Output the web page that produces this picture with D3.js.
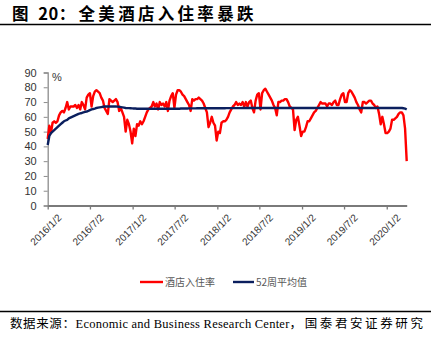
<!DOCTYPE html>
<html><head><meta charset="utf-8">
<script src="https://cdn.jsdelivr.net/npm/d3@7"></script>
<style>
html,body{margin:0;padding:0;background:#fff;}
svg{display:block;}
</style></head>
<body>
<svg id="chart" width="432" height="340"></svg>
<script>
// ---------- DATA ----------
const startDate = "2016-01-02";   // first weekly observation
const weekCount = 222;
const xTickLabels = ["2016/1/2","2016/7/2","2017/1/2","2017/7/2","2018/1/2","2018/7/2","2019/1/2","2019/7/2","2020/1/2"];
const yTicks = [0,10,20,30,40,50,60,70,80,90];
const seriesNames = ["酒店入住率","52周平均值"];

// weekly hotel occupancy (%)
const occupancy = [
45,54,49,56,57,56,57,61,63,64,
63,66,70,65,67,67,67,68,66,68,
65,70,68,65,73,75,76,67,74,77,
78,77,76,73,71,66,64,62,72,71,
70,71,72,70,64,66,63,60,50,58,
55,50,42,52,47,55,54,57,55,57,
60,63,65,66,67,70,67,69,65,70,
68,69,67,70,64,71,74,76,66,75,
78,78,77,75,74,72,70,68,64,72,
71,72,72,73,72,71,69,66,63,53,
56,60,56,54,44,50,49,56,57,57,
58,60,63,65,67,68,70,68,69,68,
70,67,70,67,70,71,66,63,71,75,
76,65,76,78,79,77,75,73,71,68,
66,61,70,70,71,71,72,72,70,67,
66,65,51,58,60,54,47,50,50,53,
57,57,59,61,63,64,66,68,70,69,
69,69,67,69,69,68,70,71,68,68,
72,75,76,70,70,76,78,77,75,73,
70,68,65,63,70,70,69,70,71,71,
69,68,66,67,62,55,60,55,49,49,
50,52,58,58,59,60,62,63,63,61,
52,30
];

// 52-week average (%)
const avg52 = [
41,47,49,50,51,52,53,54,55,56,
57,57.5,58,59,59.5,60,60.5,61,61.5,62,
62.3,62.6,63,63.3,63.6,64,64.5,65,65.3,65.6,
66,66.2,66.4,66.6,66.8,67,67,67,67,67,
67,67,67,66.9,66.8,66.6,66.4,66.2,66,65.9,
65.9,65.8,65.7,65.6,65.6,65.5,65.5,65.5,65.5,65.5,
65.5,65.5,65.5,65.5,65.5,65.5,65.5,65.5,65.5,65.5,
65.5,65.5,65.5,65.5,65.5,65.5,65.5,65.5,65.5,65.5,
65.5,65.5,65.6,65.6,65.6,65.6,65.6,65.7,65.7,65.7,
65.7,65.7,65.8,65.8,65.8,65.8,65.8,65.8,65.8,65.8,
65.8,65.8,65.8,65.8,65.8,65.8,65.8,65.8,65.8,65.8,
65.9,65.9,65.9,65.9,65.9,65.9,65.9,65.9,65.9,65.9,
66,66,66,66,66,66,66,66,66,66,
66,66,66,66,66,66,66,66,66,66,
66,66,66,66,66,66,66,66,66,66,
66,66,66,66,66,66,66,66,66,66,
66,66,66,66,66,66,66,66,66,66,
66,66,66,66,66,66,66,66,66,66,
66,66,66,66,66,66,66,66,66,66,
66,66,66,66,66,66,66,66,66,66,
66,66,66,66,66,66,66,66,66,66,
66,66,66,66,66,66,66,66,66,65.8,
65.6,65.0
];

// ---------- CHART ----------
const svg = d3.select("#chart");
const parse = d3.timeParse("%Y-%m-%d");
const t0 = parse(startDate);
const dates = d3.range(weekCount).map(i => d3.timeDay.offset(t0, i * 7));
const tickParse = d3.timeParse("%Y/%-m/%-d");
const tickDates = xTickLabels.map(s => tickParse(s));

const x = d3.scaleTime().domain([dates[0], dates[dates.length - 1]]).range([47.7, 406.7]);
const y = d3.scaleLinear().domain([0, 90]).range([205.5, 72.5]);

// Title
const title = svg.append("text")
  .attr("x", 12).attr("y", 19.5)
  .attr("font-family", "'Noto Sans CJK SC', sans-serif")
  .attr("font-weight", "bold").attr("font-size", 16.5)
  .attr("fill", "#000");
title.append("tspan").attr("letter-spacing", 3).text("图 ");
title.append("tspan").attr("letter-spacing", 0.5).text("20");
title.append("tspan").attr("letter-spacing", 3.3).text("：全美酒店入住率暴跌");
svg.append("line").attr("x1", 0).attr("x2", 431).attr("y1", 24.5).attr("y2", 24.5)
  .attr("stroke", "#000").attr("stroke-width", 1.4);

// Y axis
const yAxis = d3.axisLeft(y).tickValues(yTicks).tickSize(4).tickPadding(7);
const gy = svg.append("g").attr("transform", "translate(47.7,0)").call(yAxis);
gy.select(".domain").attr("stroke", "#8c8c8c").attr("stroke-width", 1.3);
gy.selectAll(".tick line").attr("stroke", "#8c8c8c");
gy.selectAll("text").attr("font-family", "'Liberation Sans', Arial, sans-serif")
  .attr("font-size", 11).attr("fill", "#333");

svg.append("text").attr("x", 52).attr("y", 81)
  .attr("font-family", "'Liberation Sans', Arial, sans-serif").attr("font-size", 11).attr("fill", "#333")
  .text("%");

// X axis
const fmt = d3.timeFormat("%Y/%-m/%-d");
const xAxis = d3.axisBottom(x).tickValues(tickDates).tickFormat(fmt).tickSize(4).tickSizeOuter(0);
const gx = svg.append("g").attr("transform", "translate(0,205.5)").call(xAxis);
gx.select(".domain").attr("stroke", "#7a7a7a").attr("stroke-width", 2);
gx.selectAll(".tick line").attr("stroke", "#7a7a7a").attr("stroke-width", 1.3);
gx.selectAll("text")
  .attr("font-family", "'Liberation Sans', Arial, sans-serif")
  .attr("font-size", 10).attr("fill", "#333")
  .attr("text-anchor", "end")
  .attr("transform", "translate(4,3) rotate(-45)")
  .attr("dy", "0.7em").attr("dx", "0");

// Lines
const lineOcc = d3.line().x((d, i) => x(dates[i])).y(d => y(d));
svg.append("path").datum(occupancy).attr("d", lineOcc)
  .attr("fill", "none").attr("stroke", "#ff0000").attr("stroke-width", 2.4)
  .attr("stroke-linejoin", "round");
svg.append("path").datum(avg52).attr("d", lineOcc)
  .attr("fill", "none").attr("stroke", "#0b1f5e").attr("stroke-width", 2.4)
  .attr("stroke-linejoin", "round");

// Legend
const legend = [
  {name: seriesNames[0], color: "#ff0000", x1: 140, x2: 163},
  {name: seriesNames[1], color: "#0b1f5e", x1: 233, x2: 254}
];
legend.forEach(l => {
  svg.append("line").attr("x1", l.x1).attr("x2", l.x2).attr("y1", 282).attr("y2", 282)
    .attr("stroke", l.color).attr("stroke-width", 2.4);
  svg.append("text").attr("x", l.x2 + 2).attr("y", 286)
    .attr("font-family", "'Noto Sans CJK SC', sans-serif").attr("font-size", 10).attr("fill", "#595959")
    .text(l.name);
});

// Source
svg.append("line").attr("x1", 0).attr("x2", 431).attr("y1", 311.5).attr("y2", 311.5)
  .attr("stroke", "#000").attr("stroke-width", 1.4);
const src = svg.append("text").attr("x", 10).attr("y", 327.5).attr("fill", "#000");
src.append("tspan").attr("font-family", "'Noto Sans CJK SC', sans-serif").attr("font-size", 12.5)
  .attr("letter-spacing", 0.6)
  .text("数据来源：");
src.append("tspan").attr("font-family", "'Liberation Serif', 'Times New Roman', serif").attr("font-size", 12.5)
  .attr("letter-spacing", 0.25)
  .text("Economic and Business Research Center");
src.append("tspan").attr("font-family", "'Noto Sans CJK SC', sans-serif").attr("font-size", 12.5)
  .attr("letter-spacing", 2.6)
  .text("，国泰君安证券研究");
</script>
</body></html>
